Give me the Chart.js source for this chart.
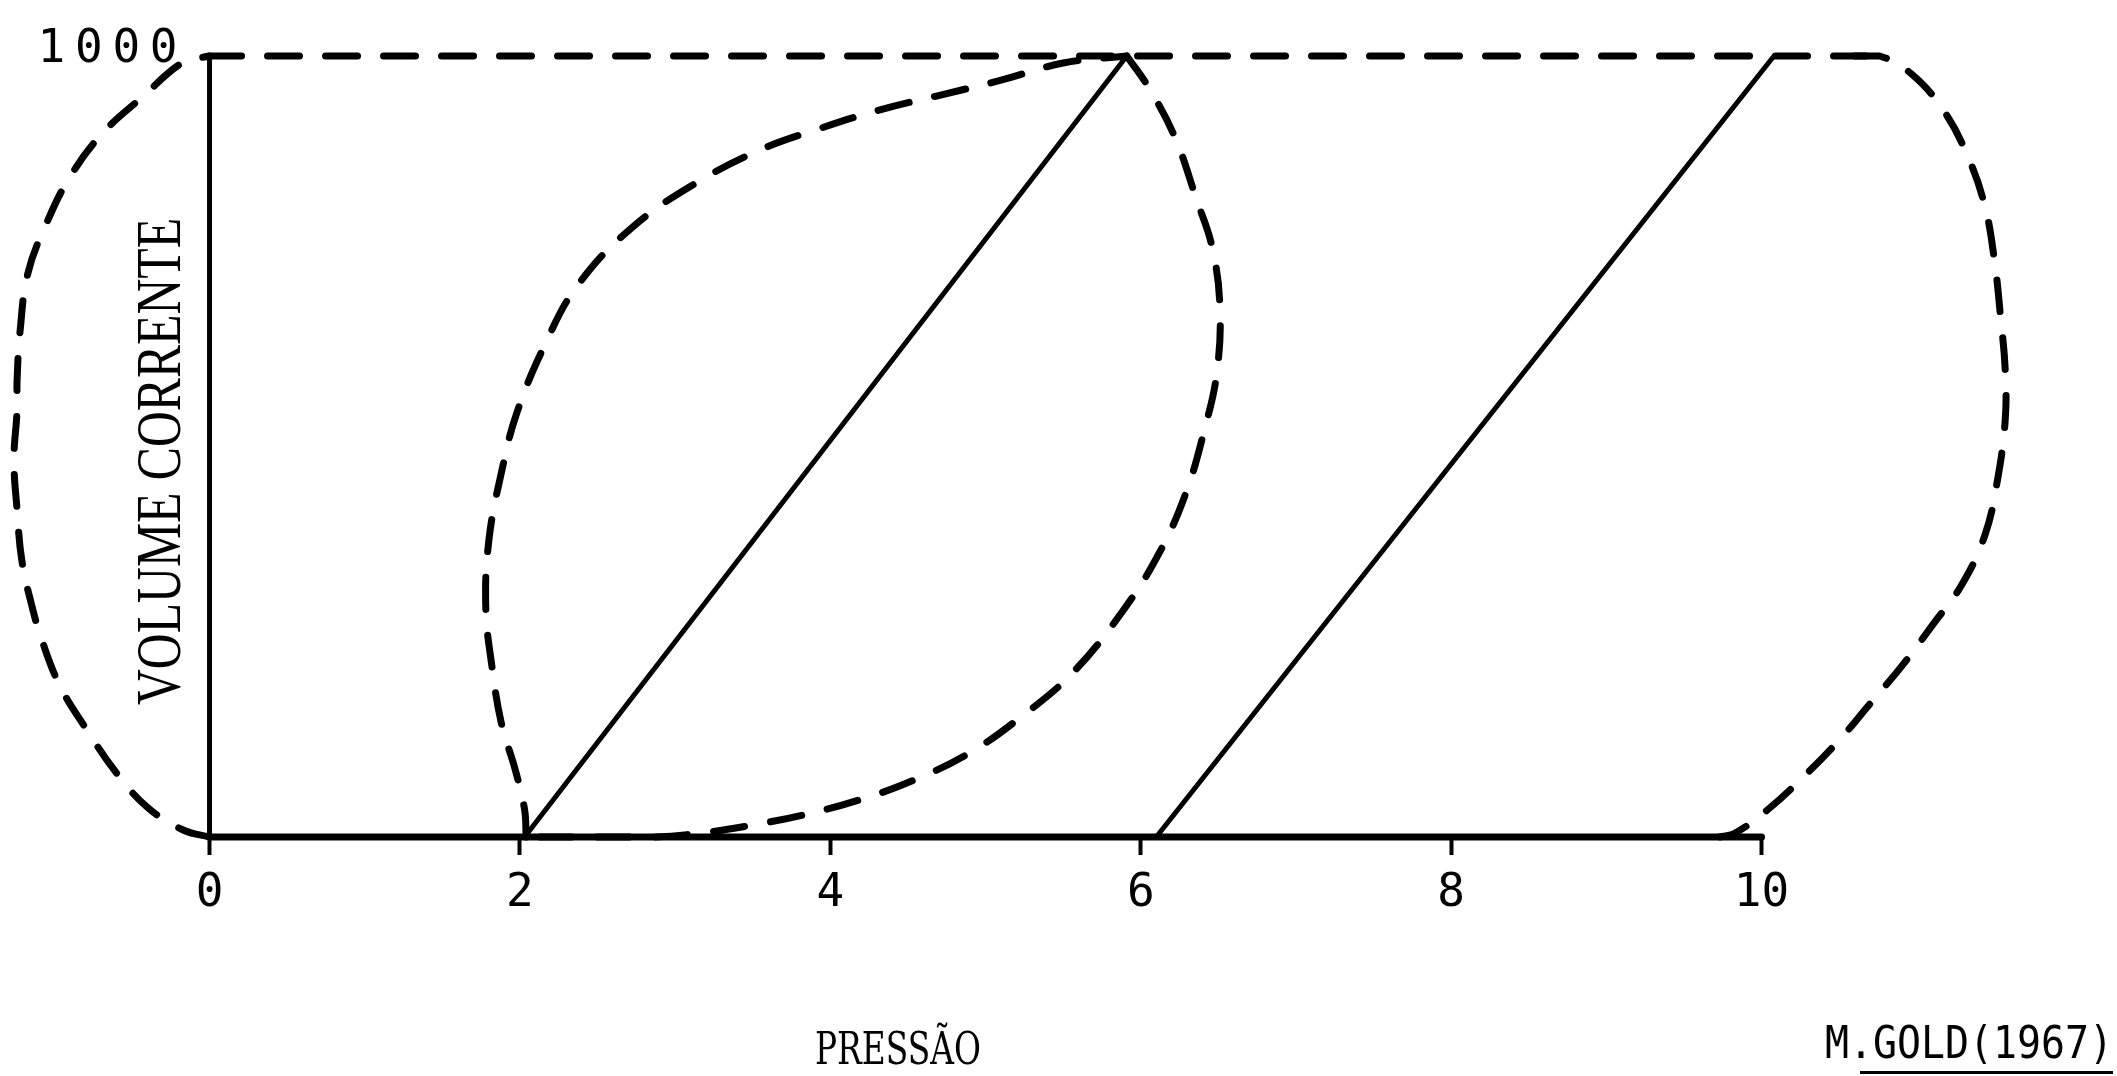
<!DOCTYPE html>
<html>
<head>
<meta charset="utf-8">
<script src="https://cdn.jsdelivr.net/npm/chart.js@4.4.0/dist/chart.umd.min.js"></script>
<style>
  html, body { margin: 0; padding: 0; background: #ffffff; }
  #wrap { width: 2117px; height: 1076px; position: relative; }
  canvas { display: block; }
</style>
</head>
<body>
<div id="wrap"><canvas id="c"></canvas></div>
<script>
// ---------------- data ----------------
const xTickValues = [0, 2, 4, 6, 8, 10];
const xTickLabels = ['0', '2', '4', '6', '8', '10'];
const yTickValues = [1000];
const yTickLabels = ['1000'];
const xAxisTitle = 'PRESSÃO';
const yAxisTitle = 'VOLUME CORRENTE';
const sourceNote = 'M.GOLD(1967)';

// solid lines
const yAxisLineX = [0, 0];
const yAxisLineY = [0, 1000];
const baseLineX = [0, 10];
const baseLineY = [0, 0];
const diagonal1X = [2.03, 5.91];
const diagonal1Y = [0, 1000];
const diagonal2X = [6.10, 10.08];
const diagonal2Y = [0, 1000];

// dashed outer envelope
const outerLeftX = [0, -0.17, -0.40, -0.60, -0.79, -0.96, -1.08, -1.15, -1.21, -1.24, -1.26, -1.24, -1.24, -1.22, -1.17, -1.05, -0.90, -0.69, -0.43, -0.17, 0];
const outerLeftY = [0, 9, 38, 82, 137, 192, 252, 300, 355, 419, 483, 547, 585, 649, 722, 786, 845, 901, 948, 992, 1000];
const topLineX = [0, 10.76];
const topLineY = [1000, 1000];
const outerRightX = [10.60, 10.76, 10.96, 11.17, 11.33, 11.44, 11.50, 11.54, 11.57, 11.57, 11.52, 11.44, 11.29, 11.10, 10.92, 10.68, 10.50, 10.27, 10.04, 9.83, 9.73];
const outerRightY = [1000, 1000, 978, 931, 871, 807, 739, 666, 598, 534, 457, 387, 323, 271, 223, 166, 124, 77, 35, 5, 0];

// dashed inner loop
const leafLeftX = [2.04, 2.03, 1.97, 1.88, 1.82, 1.78, 1.80, 1.88, 1.98, 2.16, 2.37, 2.72, 3.14, 3.55, 3.93, 4.32, 4.71, 5.10, 5.50, 5.91];
const leafLeftY = [0, 35, 86, 146, 218, 294, 380, 466, 543, 630, 706, 780, 838, 880, 907, 931, 950, 969, 991, 1000];
const leafRightX = [5.91, 6.05, 6.22, 6.36, 6.46, 6.51, 6.49, 6.41, 6.29, 6.12, 5.89, 5.56, 5.23, 4.90, 4.54, 4.18, 3.82, 3.49, 3.20, 2.87, 2.04];
const leafRightY = [1000, 960, 896, 816, 755, 679, 594, 521, 440, 364, 291, 210, 154, 108, 73, 47, 28, 15, 6, 0, 0];

// ---------------- build ----------------
const zip = (xs, ys) => xs.map((v, i) => ({ x: v, y: ys[i] }));

const solid = (xs, ys, w) => ({
  data: zip(xs, ys), showLine: true, borderColor: '#000', borderWidth: w,
  pointRadius: 0, pointHoverRadius: 0, tension: 0, clip: false, borderCapStyle: 'round'
});
const dashed = (xs, ys, t) => ({
  data: zip(xs, ys), showLine: true, borderColor: '#000', borderWidth: 7,
  borderDash: [32, 26], borderCapStyle: 'round',
  pointRadius: 0, pointHoverRadius: 0, tension: t, clip: false
});

const textPlugin = {
  id: 'freeTexts',
  afterDraw(chart) {
    const ctx = chart.ctx;
    const xs = chart.scales.x, ys = chart.scales.y;
    const x0 = xs.getPixelForValue(0);
    ctx.save();
    ctx.fillStyle = '#000';
    // draw text so that it spans [left, right]: condense by scaling, widen by letter spacing
    const fit = (text, font, left, right, baseline) => {
      ctx.save();
      ctx.font = font;
      ctx.textAlign = 'left';
      ctx.textBaseline = 'alphabetic';
      const w = ctx.measureText(text).width;
      const target = right - left;
      const n = Array.from(text).length;
      if (w > target || n < 2 || !('letterSpacing' in ctx)) {
        ctx.translate(left, baseline);
        ctx.scale(target / w, 1);
        ctx.fillText(text, 0, 0);
      } else {
        ctx.letterSpacing = ((target - w) / (n - 1)) + 'px';
        ctx.fillText(text, left, baseline);
        ctx.letterSpacing = '0px';
      }
      ctx.restore();
    };
    // y tick label(s)
    yTickValues.forEach((v, i) => {
      const py = ys.getPixelForValue(v);
      fit(yTickLabels[i], '46px "DejaVu Sans Mono"', x0 - 172, x0 - 32, py + 6);
    });
    // y title (vertical, reading upward)
    ctx.save();
    ctx.translate(180, 705);
    ctx.rotate(-Math.PI / 2);
    ctx.font = '64px "Liberation Serif"';
    ctx.textAlign = 'left';
    ctx.textBaseline = 'alphabetic';
    const tw = ctx.measureText(yAxisTitle).width;
    ctx.scale(487 / tw, 1);
    ctx.fillText(yAxisTitle, 0, 0);
    ctx.restore();
    // x title
    fit(xAxisTitle, '45px "DejaVu Serif"', 815, 981, 1064);
    // source note with underline
    fit(sourceNote, '44px "DejaVu Sans Mono"', 1825, 2113, 1058);
    ctx.fillRect(1860, 1071, 253, 3);
    ctx.restore();
  }
};

new Chart(document.getElementById('c'), {
  type: 'scatter',
  data: {
    datasets: [
      solid(yAxisLineX, yAxisLineY, 5),
      solid(baseLineX, baseLineY, 7),
      solid(diagonal1X, diagonal1Y, 5),
      solid(diagonal2X, diagonal2Y, 5),
      dashed(outerLeftX, outerLeftY, 0.4),
      dashed(topLineX, topLineY, 0),
      dashed(outerRightX, outerRightY, 0.4),
      dashed(leafLeftX, leafLeftY, 0.4),
      dashed(leafRightX, leafRightY, 0.4)
    ]
  },
  options: {
    responsive: true,
    maintainAspectRatio: false,
    animation: false,
    events: [],
    layout: { padding: { left: 0, right: 14, top: 56, bottom: 0 } },
    plugins: { legend: { display: false }, tooltip: { enabled: false } },
    scales: {
      x: {
        type: 'linear',
        min: -1.35, max: 12.2,
        border: { display: false },
        grid: { display: true, drawOnChartArea: false, drawTicks: true, tickLength: 18, tickWidth: 4, tickColor: '#000' },
        afterBuildTicks: (scale) => { scale.ticks = xTickValues.map(v => ({ value: v })); },
        afterFit: (scale) => { scale.height = 239; },
        ticks: {
          autoSkip: false, maxRotation: 0, padding: 11, color: '#000',
          font: { family: 'DejaVu Sans Mono', size: 46, lineHeight: 1.2 },
          callback: (v, i) => xTickLabels[i]
        }
      },
      y: {
        type: 'linear',
        min: 0, max: 1000,
        display: false
      }
    }
  },
  plugins: [textPlugin]
});
</script>
</body>
</html>
